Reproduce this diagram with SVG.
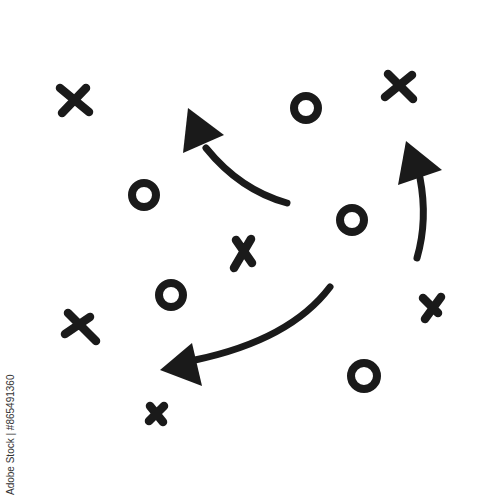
<svg xmlns="http://www.w3.org/2000/svg" width="500" height="500" viewBox="0 0 500 500">
<style>
.x{stroke:#1a1a1a;stroke-width:8.5;stroke-linecap:round;fill:none}
.o{stroke:#1a1a1a;stroke-width:8;fill:none}
.s{stroke:#1a1a1a;stroke-width:7;stroke-linecap:round;fill:none}
.h{fill:#1a1a1a}
</style>
<rect width="500" height="500" fill="#fff"/>
<g id="x1"><path class="x" d="M60 88L89 112M86 88L62 113"/></g>
<g id="x2"><path class="x" d="M388 74L413 99M412 75L385 97"/></g>
<g id="x3"><path class="x" d="M236 240L252 263M251 239L234 268"/></g>
<g id="x4"><path class="x" d="M68 313L96 341M90 317L65 334"/></g>
<g id="x5"><path class="x" d="M423 298L438 313M441 297L425 319"/></g>
<g id="x6"><path class="x" d="M150 406L163 422M164 406L149 421"/></g>
<g id="o1"><circle class="o" cx="306" cy="108" r="12"/></g>
<g id="o2"><circle class="o" cx="144" cy="195" r="12"/></g>
<g id="o3"><circle class="o" cx="352" cy="220" r="12"/></g>
<g id="o4"><circle class="o" cx="171" cy="295" r="12"/></g>
<g id="o5"><circle class="o" cx="364" cy="376" r="13"/></g>
<g id="connectors">
<path class="s" d="M287 203Q240 190 206 148"/>
<polygon class="h" points="188,108 183,153 224,135"/>
<path class="s" d="M417 258Q428 220 420 178"/>
<polygon class="h" points="406,141 398,185 442,170"/>
<path class="s" d="M330 287Q290 340 195 360"/>
<polygon class="h" points="160,370 192,343 202,386"/>
</g>
<text transform="translate(14,495) rotate(-90)" font-family="Liberation Sans, sans-serif" font-size="10" fill="#333">Adobe Stock | #865491360</text>
</svg>
